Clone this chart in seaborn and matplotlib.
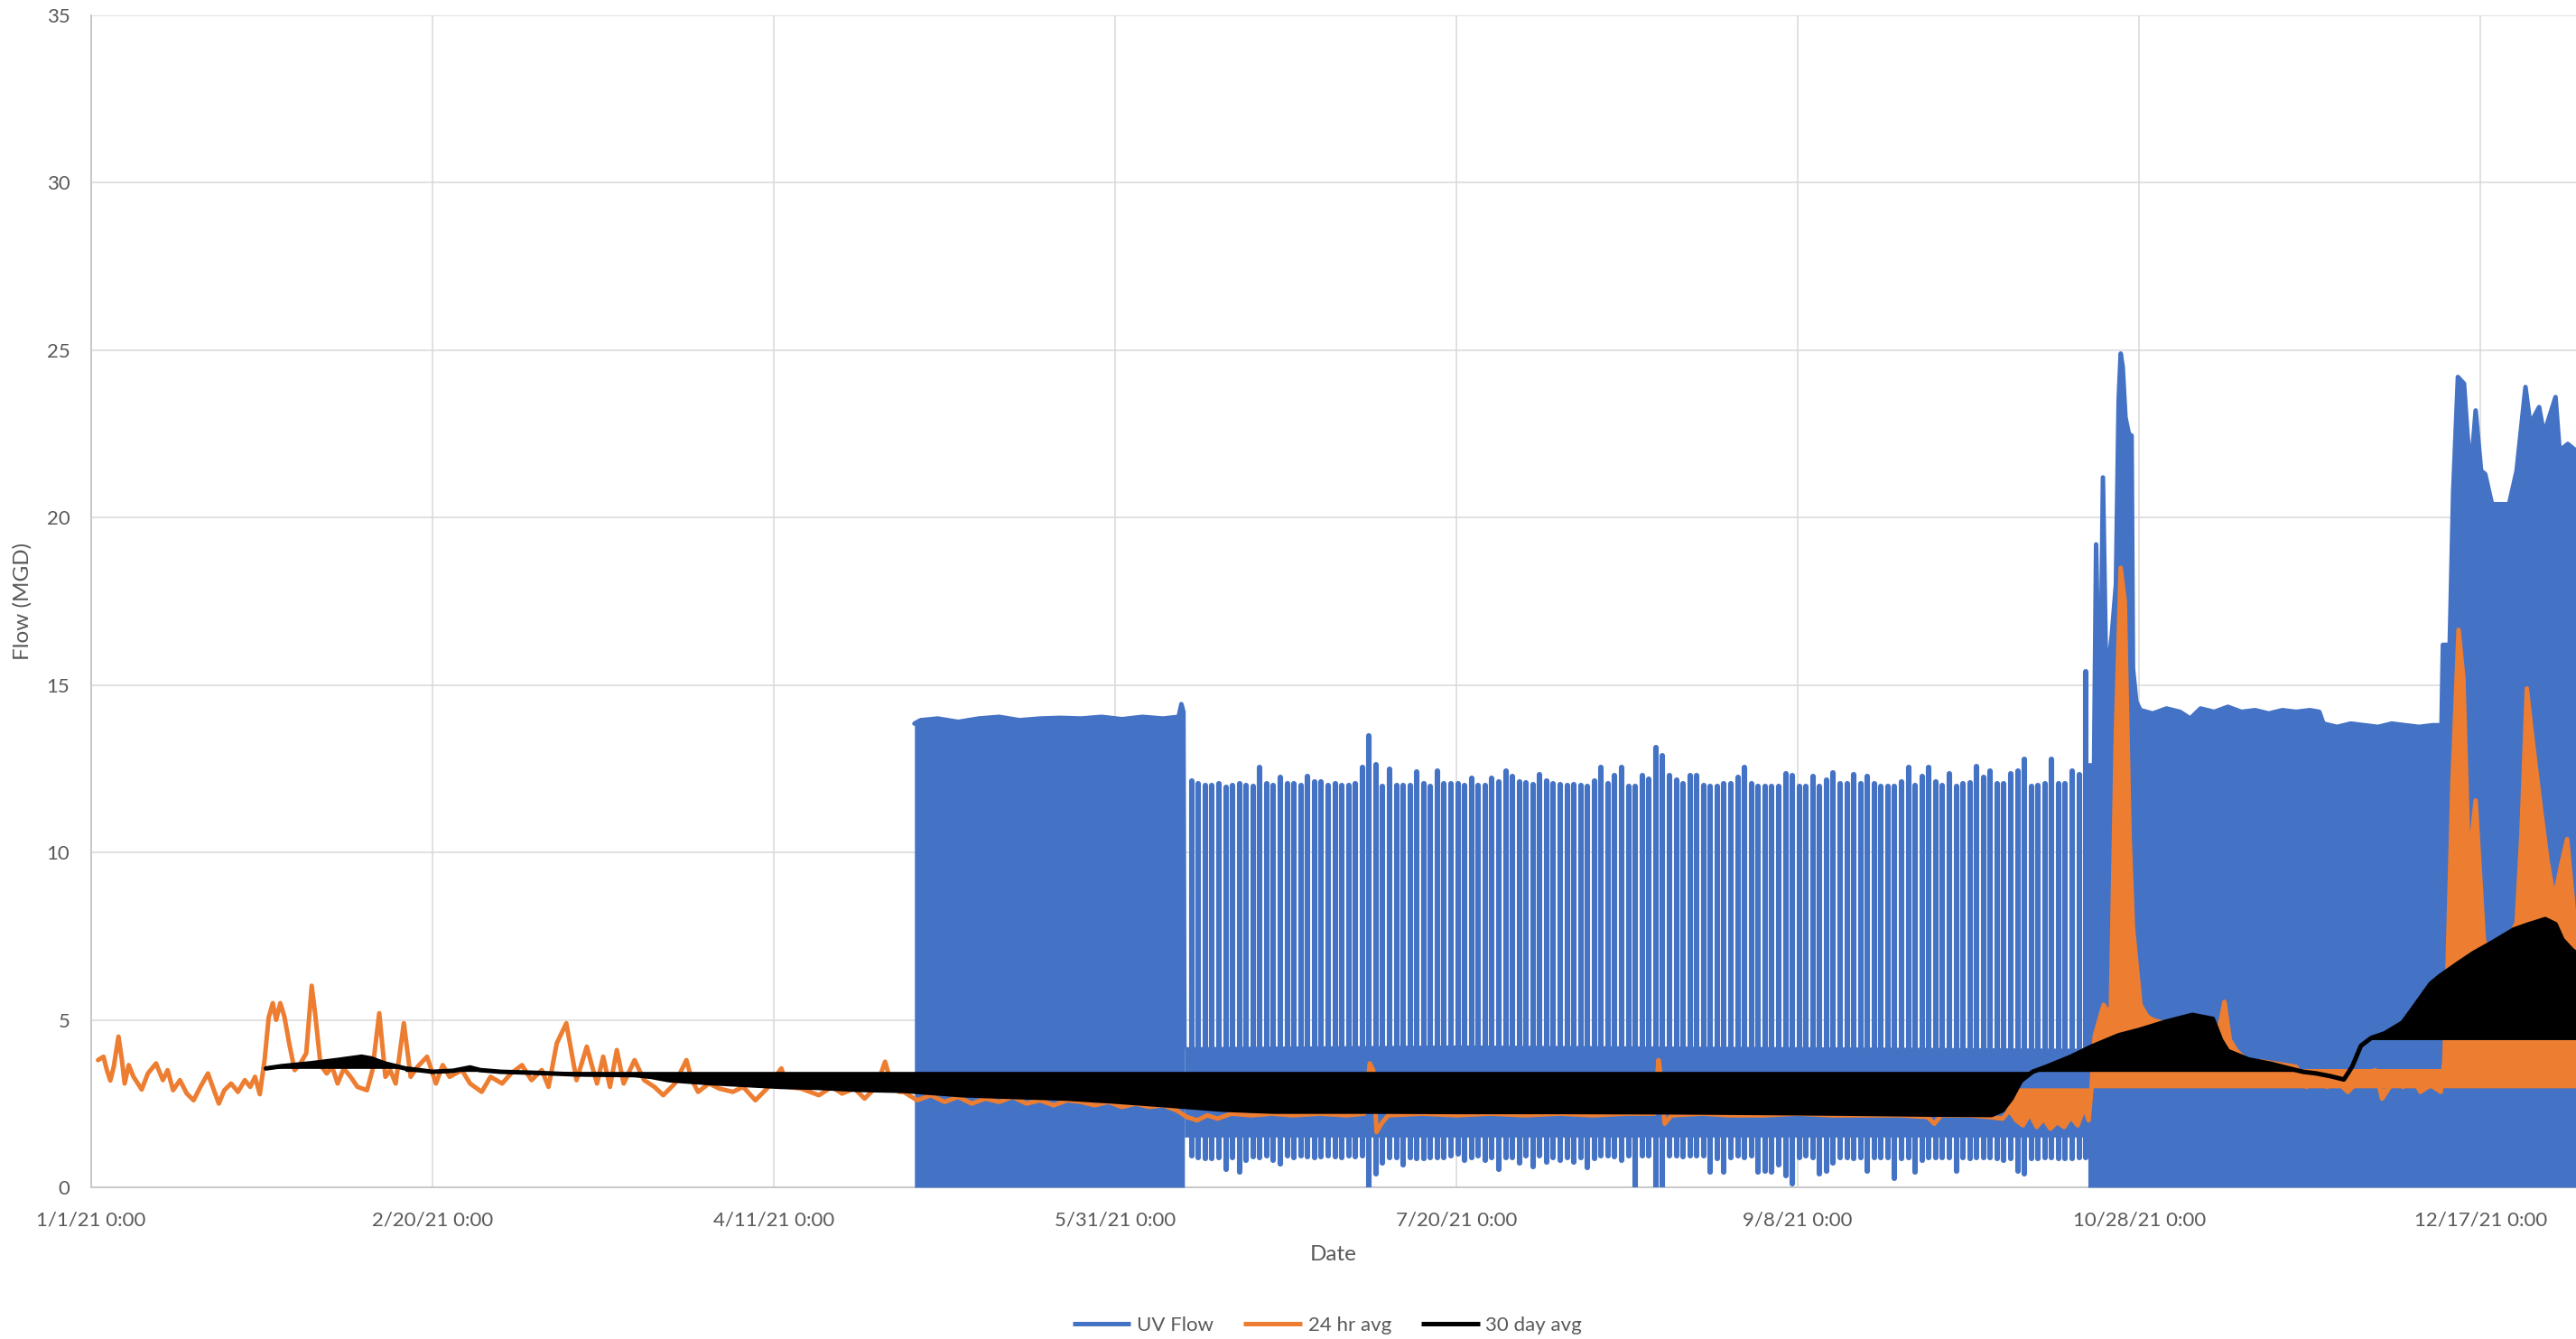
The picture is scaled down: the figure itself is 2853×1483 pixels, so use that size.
import numpy as np
import pandas as pd
import matplotlib
matplotlib.use("Agg")
import matplotlib.pyplot as plt
import matplotlib.dates as mdates
from matplotlib.lines import Line2D
from matplotlib.ticker import FuncFormatter
import seaborn as sns

# ---------------------------------------------------------------------------
# Data (x values are days elapsed since 1/1/21 0:00, y values in MGD)
# ---------------------------------------------------------------------------
START = pd.Timestamp("2021-01-01")
X_END_DAY = 364.0
TICK_DAYS = [0, 50, 100, 150, 200, 250, 300, 350]
Y_TICKS = [0, 5, 10, 15, 20, 25, 30, 35]
SERIES_NAMES = ["UV Flow", "24 hr avg", "30 day avg"]

# UV Flow, first continuous block (filled down to zero)
uv_block1_days = [120.6, 121.5, 124, 127, 130, 133, 136, 139, 142, 145, 148,
                  151, 154, 157, 159.3, 159.7, 160.0, 160.15]
uv_block1_top = [13.85, 13.95, 14.0, 13.9, 14.0, 14.05, 13.95, 14.0, 14.02,
                 14.0, 14.05, 13.98, 14.05, 14.0, 14.05, 14.43, 14.2, 4.2]

# UV Flow, daily cycling period: steady band plus one daily peak / trough
uv_band_days = [160.15, 200.0, 250.0, 292.6]
uv_band_low = [1.5, 1.5, 1.5, 1.5]
uv_band_high = [4.2, 4.25, 4.2, 4.15]
uv_cycle_first_day = 161.2
uv_daily_peak = [
    12.13, 12.04, 12.0, 12.0, 12.04, 11.95, 12.0, 12.04, 12.0, 11.98, 12.53,
    12.04, 12.0, 12.24, 12.04, 12.04, 12.0, 12.26, 12.1, 12.1, 12.0, 12.04,
    12.0, 12.0, 12.06, 12.53, 13.48, 12.62, 11.98, 12.49, 12.0, 12.0, 12.0,
    12.4, 12.06, 11.98, 12.44, 12.04, 12.06, 12.06, 12.0, 12.22, 12.0,
    12.0, 12.22, 12.1, 12.44, 12.26, 12.1, 12.08, 12.02, 12.32, 12.13, 12.06,
    12.02, 12.0, 12.02, 12.0, 11.98, 12.13, 12.53, 12.06, 12.3, 12.53, 11.98,
    11.98, 12.3, 12.19, 13.12, 12.9, 12.3, 12.17, 12.04, 12.29, 12.29, 12.01,
    11.96, 11.97, 12.06, 12.06, 12.24, 12.53, 12.06, 11.97, 11.98, 11.97,
    11.97, 12.35, 12.3,
    11.98, 11.98, 12.28, 11.97, 12.15, 12.37, 12.05, 12.06, 12.33, 12.06,
    12.28, 12.04, 11.97, 11.97, 11.97, 12.11, 12.53, 12.0, 12.26, 12.53, 12.1,
    12.01, 12.35, 11.98, 12.04, 12.08, 12.56, 12.24, 12.42, 12.04, 12.06,
    12.35, 12.42, 12.77, 11.96, 12.0, 12.06, 12.77, 12.04, 12.04, 12.44,
    12.33, 15.4]
uv_daily_trough = [
    0.94, 0.9, 0.85, 0.85, 0.9, 0.54, 0.9, 0.45, 0.81, 0.93, 0.9, 0.94, 0.81,
    0.69, 0.95, 0.9, 0.94, 0.93, 0.9, 0.93, 0.94, 0.92, 0.9, 0.94, 0.92, 0.94,
    0.0, 0.4, 0.72, 0.9, 0.9, 0.67, 0.9, 0.85, 0.87, 0.9, 0.9, 0.9, 0.94,
    0.99, 0.81, 0.9, 0.94,
    0.81, 0.9, 0.54, 0.9, 0.9, 0.72, 0.94, 0.63, 0.94, 0.76, 0.9, 0.8, 0.9,
    0.76, 0.9, 0.6, 0.87, 0.94, 0.94, 0.93, 0.8, 0.94, 0.0, 0.94, 0.94, 0.0,
    0.0, 0.94, 0.94, 0.93, 0.94, 0.94, 0.94, 0.45, 0.87, 0.45, 0.9, 0.94,
    0.9, 0.94, 0.45, 0.49, 0.45, 0.67, 0.36, 0.1,
    0.9, 0.94, 0.9, 0.4, 0.49, 0.72, 0.9, 0.9, 0.85, 0.9, 0.49, 0.9, 0.9,
    0.9, 0.27, 0.85, 0.9, 0.45, 0.81, 0.9, 0.9, 0.9, 0.9, 0.49, 0.9, 0.85,
    0.9, 0.9, 0.9, 0.85, 0.81, 0.85, 0.49, 0.4, 0.85, 0.85, 0.9, 0.9, 0.85,
    0.85, 0.85, 0.9, 0.9]

# UV Flow, final continuous block (filled down to zero)
uv_block2_days = [292.5, 293.4, 293.7, 294.0, 294.4, 294.7, 295.2, 296.0,
                  296.6, 297.0, 297.3, 297.6, 298.0, 298.5, 298.9, 299.1,
                  299.6, 300.2, 302, 304, 306, 307.5, 309, 311, 313, 315,
                  317, 319, 321, 323, 325, 326.4, 327, 329, 331, 333, 335,
                  337, 339, 341, 343, 344.3, 344.5, 345.5, 346.0, 346.7,
                  347.6, 348.1, 348.6, 349.3, 350.1, 350.7, 351.7, 353.2,
                  354.2, 355.3, 356.6, 357.3, 358.6, 359.3, 361.0, 361.6,
                  362.8, 364.0]
uv_block2_top = [12.6, 12.6, 19.2, 15.8, 15.8, 21.2, 15.0, 16.5, 18.0, 23.5,
                 24.9, 24.5, 23.0, 22.5, 22.45, 15.5, 14.5, 14.25, 14.15,
                 14.3, 14.2, 14.0, 14.3, 14.2, 14.35, 14.2, 14.25, 14.15,
                 14.25, 14.2, 14.25, 14.2, 13.85, 13.75, 13.85, 13.8, 13.75,
                 13.85, 13.8, 13.75, 13.8, 13.8, 16.2, 16.2, 20.75, 24.2,
                 24.0, 22.5, 21.4, 23.2, 21.4, 21.3, 20.4, 20.4, 20.4, 21.4,
                 23.9, 22.8, 23.3, 22.5, 23.6, 22.0, 22.2, 22.0]

# 24 hr avg
avg24_days = [
    1.0, 1.8, 2.3, 2.8, 3.3, 4.0, 4.5, 4.9, 5.5, 6.2, 7.4, 8.3, 9.5, 10.5,
    11.2, 12.0, 13.0, 14.0, 15.0, 16.0, 17.1, 17.8, 18.7, 19.5, 20.5, 21.5,
    22.5, 23.3, 24.0, 24.7, 25.4, 26.0, 26.6, 27.1, 27.7, 28.3, 29.0, 29.8,
    30.5, 31.5, 32.3, 32.8, 33.6, 34.5, 35.3, 36.1, 37.0, 38.0, 39.0, 40.4,
    41.2, 42.2, 43.1, 43.8, 44.6, 45.8, 46.8, 47.8, 49.2, 50.5, 51.5, 52.5,
    54.3, 55.5, 57.2, 58.5, 60.2, 61.5, 63.1, 64.5, 66.0, 67.0, 68.2, 69.6,
    70.3, 71.1, 72.6, 73.4, 74.1, 75.0, 76.0, 77.0, 78.0, 79.6, 81.0, 82.5,
    83.8, 85.5, 87.2, 88.0, 88.9, 90.5, 92.0, 94.0, 95.5, 97.3, 99.0, 101.1,
    102.0, 104.0, 106.6, 108.5, 110.0, 111.8, 113.3, 115.0, 116.3, 117.2,
    118.4, 119, 121, 123, 125, 127, 129, 131, 133, 135, 137, 139, 141, 143,
    145, 147, 149, 151, 153, 155, 157, 159, 160.5, 162, 163.5, 165, 167, 170,
    173, 176, 180, 184, 186.5, 187.3, 187.8, 188.3, 189, 190, 195, 200, 205,
    210, 215, 220, 225, 229.0, 229.6, 230.0, 230.5, 231.5, 236, 240, 245,
    250, 255, 260, 265, 269, 270, 271, 275, 278, 280, 281, 282, 283, 284,
    285, 286, 287, 288, 289, 290, 291, 292, 292.6, 293.0, 293.5, 294.8,
    295.3, 295.8, 296.6, 297.3, 297.9, 298.6, 299.1, 300.2, 301.2, 302,
    303.7, 305.3, 307.8, 310.8, 311.8, 312.5, 313.3, 314.3, 315.9, 317.9,
    319.9, 323, 324.5, 326, 327.5, 329, 330.6, 332.6, 334.6, 335.6, 337.2,
    338.7, 340, 341.2, 342.7, 344.2, 344.7, 345.2, 345.9, 346.8, 347.5,
    348.3, 349.3, 349.8, 350.5, 351.7, 353.5, 355.3, 356.0, 356.8, 357.5,
    358.8, 359.8, 360.8, 361.8, 362.7, 363.7, 364.0]
avg24_vals = [
    3.8, 3.9, 3.5, 3.19, 3.6, 4.5, 3.8, 3.1, 3.65, 3.3, 2.92, 3.4, 3.7, 3.2,
    3.5, 2.9, 3.2, 2.8, 2.6, 3.0, 3.4, 3.0, 2.5, 2.9, 3.1, 2.85, 3.2, 3.0,
    3.3, 2.78, 3.8, 5.07, 5.5, 5.0, 5.5, 5.1, 4.3, 3.5, 3.65, 4.0, 6.02, 5.2,
    3.65, 3.4, 3.6, 3.1, 3.55, 3.3, 3.0, 2.9, 3.5, 5.2, 3.3, 3.5, 3.1, 4.9,
    3.3, 3.6, 3.9, 3.1, 3.65, 3.3, 3.5, 3.1, 2.85, 3.3, 3.1, 3.4, 3.65, 3.2,
    3.5, 3.0, 4.3, 4.9, 4.1, 3.2, 4.2, 3.6, 3.1, 3.9, 3.0, 4.1, 3.1, 3.8,
    3.2, 3.0, 2.75, 3.1, 3.8, 3.2, 2.85, 3.1, 2.95, 2.85, 3.0, 2.6, 2.95,
    3.55, 3.0, 2.95, 2.75, 3.0, 2.8, 2.95, 2.65, 3.0, 3.75, 3.1, 2.85,
    2.85, 2.6, 2.75, 2.55, 2.7, 2.5, 2.65, 2.55, 2.7, 2.5, 2.6, 2.45, 2.6,
    2.55, 2.45, 2.55, 2.4, 2.5, 2.4, 2.45, 2.3, 2.1, 2.0, 2.15, 2.05, 2.2,
    2.15, 2.2, 2.15, 2.2, 2.15, 2.2, 3.7, 3.5, 1.65, 1.9, 2.15, 2.2, 2.15,
    2.2, 2.15, 2.2, 2.15, 2.2, 2.2, 3.8, 3.2, 1.9, 2.15, 2.2, 2.15, 2.15,
    2.2, 2.15, 2.15, 2.15, 2.1, 1.9, 2.15, 2.15, 2.1, 2.05, 2.3, 2.0, 1.85,
    2.2, 1.8, 2.05, 1.75, 1.95, 1.8, 2.1, 1.85, 2.4, 2.0, 2.9, 4.52, 5.45,
    5.3, 4.7, 13.6, 18.5, 17.5, 10.5, 7.75, 5.45, 5.1, 5.0, 4.9, 5.0, 4.9,
    4.6, 4.8, 5.54, 4.4, 4.07, 3.76, 3.76, 3.7, 3.6, 3.0, 3.2, 3.0, 3.15,
    2.85, 3.3, 3.5, 2.65, 3.15, 3.0, 3.3, 2.85, 3.05, 2.85, 3.77, 6.7, 12.1,
    16.65, 15.2, 9.6, 11.55, 9.8, 7.4, 6.7, 7.2, 7.9, 10.5, 14.9, 13.6, 11.4,
    9.8, 8.6, 9.6, 10.4, 8.2, 8.0]
# (start day, end day, level) ranges where the 24 hr trace is shaded to a level
avg24_shade = [(280.5, 364.0, 2.97)]
# (start day, end day, low, high) solid 24 hr strips
avg24_strips = [(293.0, 344.7, 2.97, 3.53)]

# 30 day avg
avg30_days = [25.6, 28, 32, 36, 39.6, 41, 43, 46, 48, 50, 53, 55.5, 57, 60,
              65, 71, 75, 79.6, 82, 84.6, 90, 96.3, 101, 106.5, 112.4, 119,
              127.6, 135, 142.8, 150, 158, 165.6, 173.2, 188.4, 200, 215,
              231.5, 245, 256.9, 270, 278.4, 280, 281.3, 282.7, 284.4, 286.4,
              290, 293, 297, 300, 304, 307.8, 310.8, 312, 313, 316, 319.3,
              322, 324, 326, 328, 330, 331.2, 332.5, 334, 336, 338.6, 340,
              342.7, 344, 346.8, 349, 351.8, 354.9, 357, 359.5, 361, 362,
              363.4, 364]
avg30_vals = [3.55, 3.62, 3.7, 3.8, 3.9, 3.85, 3.7, 3.55, 3.5, 3.45, 3.48,
              3.58, 3.5, 3.45, 3.42, 3.37, 3.36, 3.35, 3.3, 3.2, 3.12, 3.05,
              3.0, 2.97, 2.91, 2.88, 2.75, 2.7, 2.65, 2.56, 2.44, 2.32, 2.26,
              2.26, 2.25, 2.25, 2.24, 2.22, 2.2, 2.17, 2.16, 2.3, 2.65, 3.18,
              3.45, 3.6, 3.9, 4.2, 4.54, 4.7, 4.95, 5.15, 5.03, 4.4, 4.07,
              3.82, 3.69, 3.55, 3.45, 3.4, 3.32, 3.22, 3.6, 4.23, 4.46, 4.6,
              4.92, 5.31, 6.08, 6.3, 6.7, 7.0, 7.32, 7.7, 7.85, 8.01, 7.86,
              7.4, 7.09, 7.0]
avg30_shade = [(25.6, 46.0, 3.55), (46.0, 323.0, 3.46), (334.0, 364.0, 4.41)]

# ---------------------------------------------------------------------------
# Styling
# ---------------------------------------------------------------------------
BLUE = "#4472C4"
ORANGE = "#ED7D31"
BLACK = "#000000"
GRID = "#D9D9D9"
TEXT = "#595959"
LW = 3.6
CYCLE_LW = 4.4

sns.set_theme(style="whitegrid")
plt.rcParams["font.family"] = ["Lato", "DejaVu Sans"]


def to_dates(days):
    return START + pd.to_timedelta(np.asarray(days, dtype=float), unit="D")


def span(days, vals, a, b):
    d = np.asarray(days, dtype=float)
    v = np.asarray(vals, dtype=float)
    inner = (d > a) & (d < b)
    xs = np.concatenate([[a], d[inner], [b]])
    return xs, np.interp(xs, d, v)


W, H = 2853, 1483
fig = plt.figure(figsize=(W / 100, H / 100), dpi=100)
ax = fig.add_axes([101 / W, 1 - 1315 / H, 1 - 101 / W, (1315 - 17) / H])
ax.set_facecolor("white")

line_kw = dict(solid_capstyle="round", solid_joinstyle="round")

# --- UV Flow -------------------------------------------------------------
d1 = to_dates(uv_block1_days)
ax.fill_between(d1, 0, uv_block1_top, color=BLUE, lw=0, zorder=2)
sns.lineplot(x=d1, y=uv_block1_top, ax=ax, color=BLUE, lw=LW, sort=False,
             estimator=None, zorder=2, **line_kw)

db = to_dates(uv_band_days)
ax.fill_between(db, uv_band_low, uv_band_high, color=BLUE, lw=0, zorder=2)
cycle_days = uv_cycle_first_day + np.arange(len(uv_daily_peak))
vl = ax.vlines(to_dates(cycle_days), uv_daily_trough, uv_daily_peak,
               colors=BLUE, lw=CYCLE_LW, zorder=2)
vl.set_capstyle("round")

d2 = to_dates(uv_block2_days)
ax.fill_between(d2, 0, uv_block2_top, color=BLUE, lw=0, zorder=2)
sns.lineplot(x=d2, y=uv_block2_top, ax=ax, color=BLUE, lw=LW, sort=False,
             estimator=None, zorder=2, **line_kw)

# --- 24 hr avg ---------------------------------------------------------
for a, b, level in avg24_shade:
    xs, ys = span(avg24_days, avg24_vals, a, b)
    ax.fill_between(to_dates(xs), ys, level, color=ORANGE, lw=0,
                    interpolate=True, zorder=3)
for a, b, lo, hi in avg24_strips:
    ax.fill_between(to_dates([a, b]), lo, hi, color=ORANGE, lw=0, zorder=3)
sns.lineplot(x=to_dates(avg24_days), y=avg24_vals, ax=ax, color=ORANGE,
             lw=LW, sort=False, estimator=None, zorder=3, **line_kw)

# --- 30 day avg --------------------------------------------------------
for a, b, level in avg30_shade:
    xs, ys = span(avg30_days, avg30_vals, a, b)
    ax.fill_between(to_dates(xs), ys, level, color=BLACK, lw=0,
                    interpolate=True, zorder=4)
sns.lineplot(x=to_dates(avg30_days), y=avg30_vals, ax=ax, color=BLACK,
             lw=LW, sort=False, estimator=None, zorder=4, **line_kw)

# --- Axes --------------------------------------------------------------
ax.set_ylim(0, 35)
ax.set_xlim(to_dates([0])[0], to_dates([X_END_DAY])[0])
ax.set_yticks(Y_TICKS)
ax.set_xticks(to_dates(TICK_DAYS))


def date_label(x, pos):
    d = mdates.num2date(x)
    return f"{d.month}/{d.day}/{d.year % 100} {d.hour}:{d.minute:02d}"


ax.xaxis.set_major_formatter(FuncFormatter(date_label))
ax.tick_params(axis="both", length=0, labelsize=16, labelcolor=TEXT)
ax.tick_params(axis="y", pad=17)
ax.tick_params(axis="x", pad=19)
ax.grid(True, color=GRID, lw=1.1, zorder=0)
ax.set_axisbelow(True)
for side in ("top", "right"):
    ax.spines[side].set_visible(False)
for side in ("left", "bottom"):
    ax.spines[side].set_visible(True)
    ax.spines[side].set_color("#C8C8C8")
    ax.spines[side].set_linewidth(1.4)
    ax.spines[side].set_zorder(1)

ax.set_xlabel("Date", fontsize=17.5, color=TEXT, va="center")
ax.set_ylabel("Flow (MGD)", fontsize=17.5, color=TEXT, va="center")
ax.xaxis.set_label_coords(0.5, (1315 - 1390) / 1298)
ax.yaxis.set_label_coords((25 - 101) / (W - 101), 0.5)

handles = [Line2D([0], [0], color=c, lw=LW, solid_capstyle="butt")
           for c in (BLUE, ORANGE, BLACK)]
leg = fig.legend(handles, SERIES_NAMES, loc="center",
                 bbox_to_anchor=(1470 / W, 1 - 1468 / H), ncol=3,
                 frameon=False, fontsize=16, handlelength=2.9,
                 handletextpad=0.3, columnspacing=1.5)
for t in leg.get_texts():
    t.set_color(TEXT)

fig.savefig("out.png", dpi=100, facecolor="white")
